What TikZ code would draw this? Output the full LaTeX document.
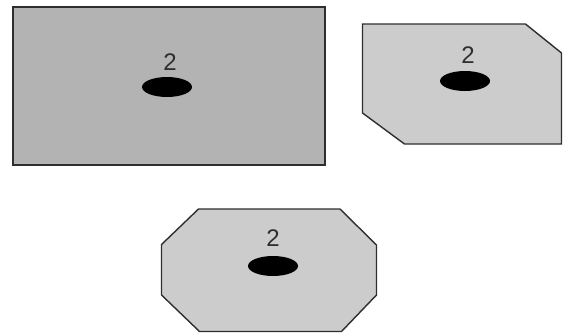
\documentclass[tikz,border=0pt]{standalone}
\usepackage{fontspec}
\setmainfont{Liberation Sans}
\usetikzlibrary{calc}
\definecolor{darkfill}{HTML}{B3B3B3}
\definecolor{lightfill}{HTML}{CCCCCC}
\definecolor{edge}{HTML}{2E2E2E}
\begin{document}
\begin{tikzpicture}[x=1pt,y=-1pt]
% Hole radii
\def\rX{25pt}
\def\rY{10pt}
% Styles for plates and labels
\tikzset{plate/.style={draw=edge, line width=1.4pt, line join=miter},
         num/.style={text=edge, inner sep=0pt, font=\fontsize{24}{26}\selectfont}}
\useasboundingbox (0,0) rectangle (565,333);
% Plain rectangle plate
\draw[plate, fill=darkfill] (13,7) rectangle (325,165);
\coordinate (holeA) at (167,87);
\fill (holeA) ellipse [x radius=\rX, y radius=\rY];
\node[num] (numA) at (170,62) {2};
% Plate with two cut corners
\draw[plate, fill=lightfill] (362.5,24) -- (525.5,24) -- (561.5,53) -- (561.5,144)
  -- (404.5,144) -- (362.5,113) -- cycle;
\coordinate (holeB) at (465,81);
\fill (holeB) ellipse [x radius=\rX, y radius=\rY];
\node[num] (numB) at (468,55) {2};
% Octagon plate
\draw[plate, fill=lightfill] (198.5,209) -- (340,209) -- (376.5,245) -- (376.5,295)
  -- (341.5,331.5) -- (199.5,331.5) -- (161.5,295) -- (161.5,244.5) -- cycle;
\coordinate (holeC) at (273,266);
\fill (holeC) ellipse [x radius=\rX, y radius=\rY];
\node[num] (numC) at (273,238) {2};
\end{tikzpicture}
\end{document}
